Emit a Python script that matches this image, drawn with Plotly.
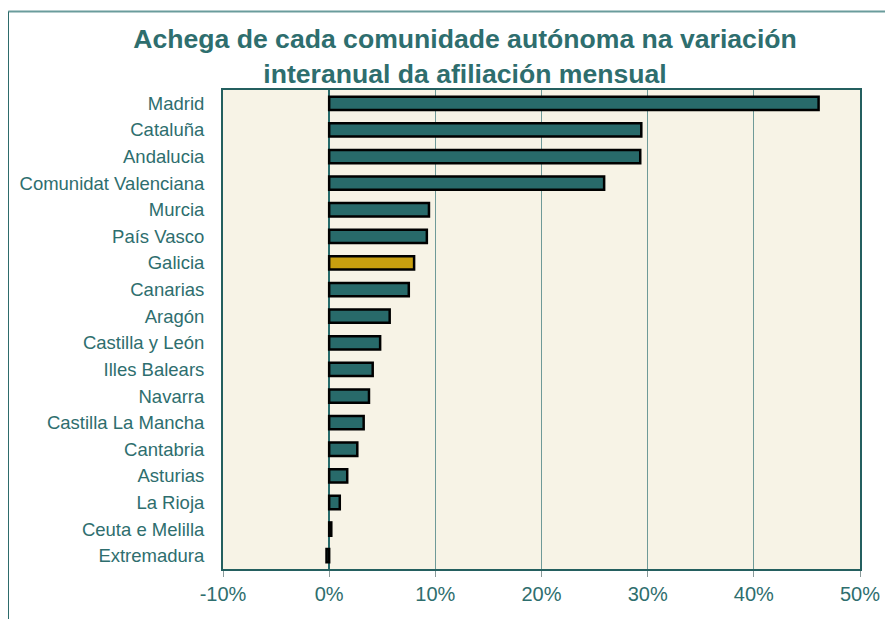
import plotly.graph_objects as go

regions = ["Madrid", "Cataluña", "Andalucia", "Comunidat Valenciana", "Murcia",
           "País Vasco", "Galicia", "Canarias", "Aragón", "Castilla y León",
           "Illes Balears", "Navarra", "Castilla La Mancha", "Cantabria",
           "Asturias", "La Rioja", "Ceuta e Melilla", "Extremadura"]
values = [46.1, 29.4, 29.3, 25.9, 9.4, 9.2, 8.0, 7.5, 5.7, 4.8,
          4.1, 3.75, 3.25, 2.65, 1.7, 1.0, 0.2, -0.25]
tick_vals = [-10, 0, 10, 20, 30, 40, 50]
tick_text = ["-10%", "0%", "10%", "20%", "30%", "40%", "50%"]

TEAL = "#286a6a"
GOLD = "#c9a00f"
TEXT = "#2e6e6e"
colors = [GOLD if r == "Galicia" else TEAL for r in regions]

# figure sits at an 8px page offset (default body margin)
W, H = 885, 611
L, R, T, B = 215, 33, 82, 50
PW, PH = W - L - R, H - T - B

fig = go.Figure(go.Bar(
    y=regions, x=values, orientation="h",
    marker=dict(color=colors, line=dict(color="#000000", width=2.5)),
    width=0.5,
))

fig.update_layout(
    width=W, height=H,
    margin=dict(l=L, r=R, t=T, b=B),
    paper_bgcolor="white",
    plot_bgcolor="#f7f3e6",
    font=dict(family="Liberation Sans, Arial, sans-serif", color=TEXT),
    title=dict(
        text="<b>Achega de cada comunidade autónoma na variación<br>interanual da afiliación mensual</b>",
        x=457 / W, xanchor="center", xref="container",
        y=1 - 40 / H, yanchor="top", yref="container",
        font=dict(size=26.6, color=TEXT, family="Liberation Sans, Arial, sans-serif"),
    ),
    showlegend=False,
)

fig.update_xaxes(
    range=[-10, 50], tickvals=tick_vals, ticktext=tick_text,
    tickfont=dict(size=20, color=TEXT),
    showgrid=True, gridcolor="#6f9a98", gridwidth=1,
    zeroline=True, zerolinecolor=TEAL, zerolinewidth=1.5,
    showline=True, linecolor="#245f5f", linewidth=2, mirror=True,
    ticks="outside", ticklen=6, tickcolor="#8a9a9a", tickwidth=1,
    fixedrange=True,
)
fig.update_yaxes(
    autorange="reversed",
    tickfont=dict(size=18.5, color=TEXT),
    showgrid=False,
    showline=True, linecolor="#245f5f", linewidth=2, mirror=True,
    ticks="", ticklabelstandoff=13,
    fixedrange=True,
)

# outer frame (top and left edge lines)
xl = (0.25 - L) / PW
yt = (H - B - 3.5) / PH
fig.add_shape(type="line", xref="paper", yref="paper",
              x0=xl, x1=(W - L) / PW, y0=yt, y1=yt,
              line=dict(color="#6a9c9c", width=2))
fig.add_shape(type="line", xref="paper", yref="paper",
              x0=xl, x1=xl, y0=yt, y1=-(B + 5) / PH,
              line=dict(color="#2d6b6b", width=1.5))

fig.write_html("out.html")
